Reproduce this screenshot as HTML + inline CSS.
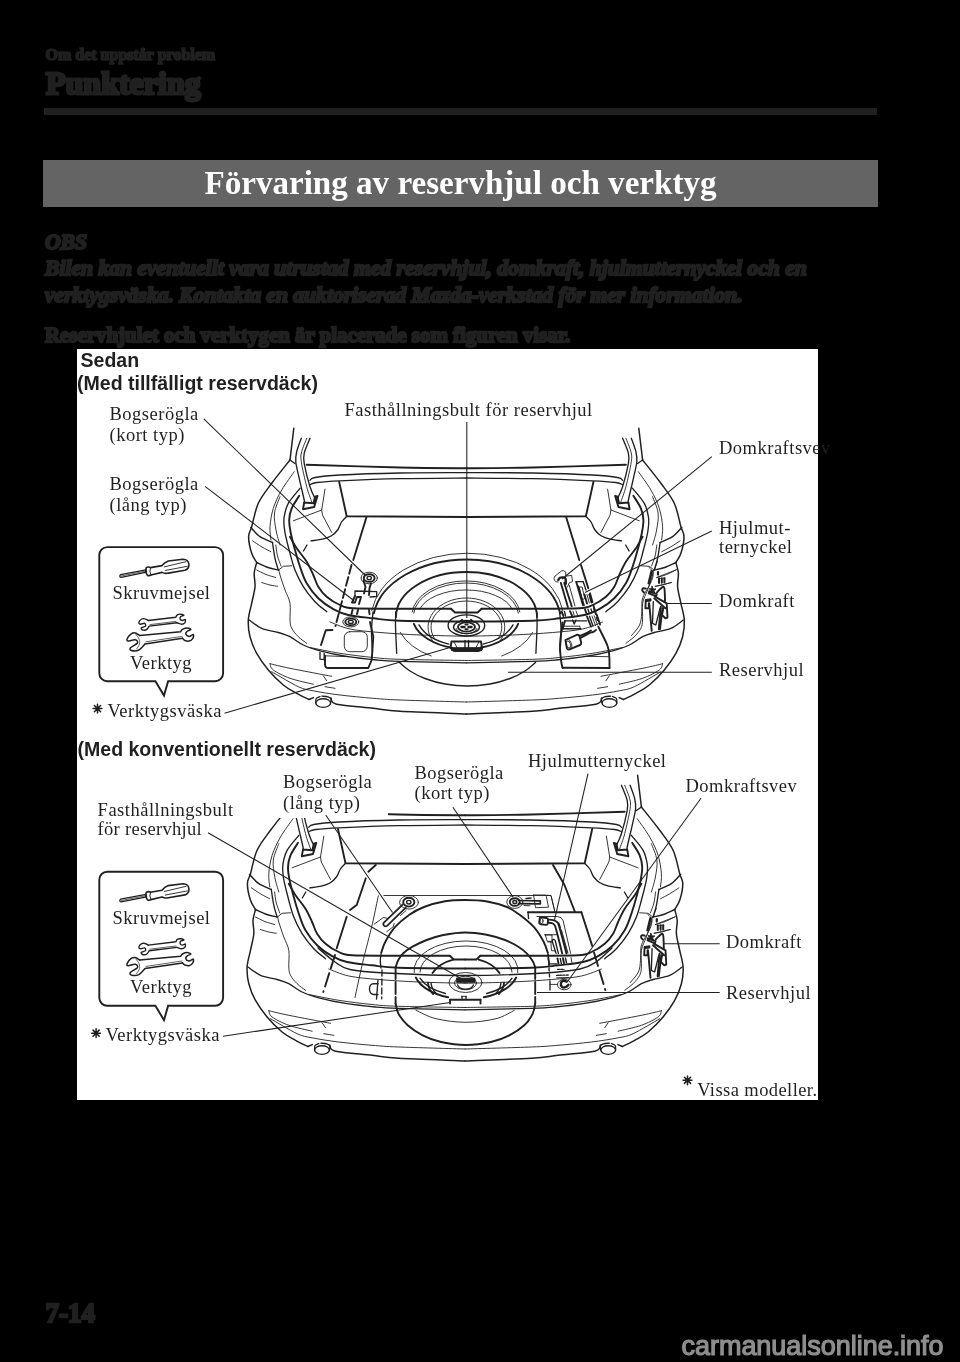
<!DOCTYPE html>
<html lang="sv">
<head>
<meta charset="utf-8">
<title>Punktering</title>
<style>
html,body{margin:0;padding:0;background:#000;}
body{width:960px;height:1362px;position:relative;overflow:hidden;filter:grayscale(1);font-family:"Liberation Serif",serif;color:#231f20;}
.abs{position:absolute;white-space:nowrap;margin:0;}
.hd{font-weight:bold;color:#231f20;}
#h1{left:45.5px;top:46px;font-size:16px;line-height:18px;-webkit-text-stroke:1.7px #231f20;}
#h2{left:46px;top:65px;font-size:32px;line-height:37px;-webkit-text-stroke:3px #231f20;}
#rule{left:43.9px;top:107.9px;width:832.9px;height:7px;background:#231f20;}
#banner{left:43px;top:160px;width:835px;height:47px;background:#636466;}
#title{left:43px;top:160px;width:835px;height:47px;line-height:46px;text-align:center;color:#fff;font-weight:bold;font-size:33.1px;}
.obs{font-style:italic;font-weight:bold;font-size:21.6px;line-height:27px;left:45px;-webkit-text-stroke:2.3px #231f20;}
#p1{left:45px;top:323px;font-weight:bold;font-size:20.9px;line-height:24px;-webkit-text-stroke:2.3px #231f20;}
#panel{left:77px;top:349px;width:741px;height:751px;background:#fff;}
.sb{font-family:"Liberation Sans",sans-serif;font-weight:bold;font-size:19px;line-height:22px;color:#231f20;}
.lb{font-family:"Liberation Serif",serif;font-size:19.3px;line-height:20px;color:#231f20;}
#pg{left:45.5px;top:1298px;font-weight:bold;font-size:27px;line-height:30px;-webkit-text-stroke:2.4px #231f20;}
#wm{left:681.5px;top:1330.5px;font-family:"Liberation Sans",sans-serif;font-size:27px;line-height:30px;color:#8e8e8e;-webkit-text-stroke:1.2px #8e8e8e;letter-spacing:-0.03px;}
svg{position:absolute;left:0;top:0;}
</style>
</head>
<body>
<div class="abs hd" id="h1">Om det uppstår problem</div>
<div class="abs hd" id="h2">Punktering</div>
<div class="abs" id="rule"></div>
<div class="abs" id="banner"></div>
<div class="abs" id="title">Förvaring av reservhjul och verktyg</div>
<div class="abs obs" style="top:228.5px">OBS</div>
<div class="abs obs" style="top:255.3px">Bilen kan eventuellt vara utrustad med reservhjul, domkraft, hjulmutternyckel och en</div>
<div class="abs obs" style="top:282.3px">verktygsväska. Kontakta en auktoriserad Mazda-verkstad för mer information.</div>
<div class="abs" id="p1">Reservhjulet och verktygen är placerade som figuren visar.</div>
<div class="abs" id="panel"></div>
<!--TEXT-->
<svg id="fig" width="960" height="1362" viewBox="0 0 960 1362">
<defs>
<clipPath id="pc"><rect x="77" y="349" width="741" height="751"/></clipPath>
</defs>
<g font-family="Liberation Sans, sans-serif" font-weight="bold" font-size="19.55" fill="#231f20">
<text x="80.5" y="367">Sedan</text>
<text x="77" y="390" clip-path="url(#pc)">(Med tillfälligt reservdäck)</text>
<text x="77.5" y="755.5" clip-path="url(#pc)">(Med konventionellt reservdäck)</text>
</g>
<g font-family="Liberation Serif, serif" font-size="18.5" fill="#231f20" letter-spacing="0.5">
<text x="109.5" y="420">Bogserögla</text>
<text x="109.5" y="441">(kort typ)</text>
<text x="109.5" y="490">Bogserögla</text>
<text x="109.5" y="511">(lång typ)</text>
<text x="344.5" y="415.7">Fasthållningsbult för reservhjul</text>
<text x="719" y="453.7">Domkraftsvev</text>
<text x="719" y="533.6">Hjulmut-</text>
<text x="719" y="552.5">ternyckel</text>
<text x="719" y="607.4">Domkraft</text>
<text x="719" y="676.4">Reservhjul</text>
<text x="112.5" y="599.1">Skruvmejsel</text>
<text x="130" y="669">Verktyg</text>
<text x="107.5" y="717">Verktygsväska</text>
<text x="283" y="788.4">Bogserögla</text>
<text x="283" y="808.6">(lång typ)</text>
<text x="97.6" y="815.7">Fasthållningsbult</text>
<text x="97.6" y="835.2" letter-spacing="0.3">för reservhjul</text>
<text x="528" y="766.9">Hjulmutternyckel</text>
<text x="414.5" y="779.4">Bogserögla</text>
<text x="414.5" y="799.1">(kort typ)</text>
<text x="685.5" y="791.5">Domkraftsvev</text>
<text x="726" y="948.3">Domkraft</text>
<text x="726" y="998.7">Reservhjul</text>
<text x="112.5" y="923.7">Skruvmejsel</text>
<text x="130" y="993.1">Verktyg</text>
<text x="105.5" y="1041">Verktygsväska</text>
<text x="697.2" y="1096" letter-spacing="0.42">Vissa modeller.</text>
</g>
<!-- asterisks -->
<g id="ast" stroke="#231f20" stroke-width="1.5" stroke-linecap="round" fill="#231f20">
<g id="a1" transform="translate(97.5,708.6)"><path d="M-4.4,0H4.4M0,-4.4V4.4M-3.1,-3.1L3.1,3.1M3.1,-3.1L-3.1,3.1"/><circle r="2.1" stroke="none"/></g>
<use href="#a1" x="-1.4" y="324.6"/>
<use href="#a1" x="590" y="371.7"/>
</g>
<!-- leaders -->
<g id="leaders" stroke="#231f20" stroke-width="1.05" fill="none">
<path d="M203.8,418.8L366,576"/>
<path d="M205,486.3L353.8,600.5"/>
<path d="M466.8,422V618"/>
<path d="M711.8,456.7L562,579"/>
<path d="M711.8,531L585,592.5"/>
<path d="M711.8,603.4H667"/>
<path d="M711.8,672.2H508"/>
<path d="M224.5,713.2L450,647.5"/>
<path d="M208,832.7L460,978"/>
<path d="M325.7,815L392.5,912.5"/>
<path d="M452.9,807.2L513,897"/>
<path d="M588,773.6L554.4,920.3"/>
<path d="M701,798.2L567.5,981.5"/>
<path d="M719.7,943.8H664"/>
<path d="M719.7,992.5H537"/>
<path d="M223,1036.2L450,1002.5"/>
</g>
<!-- callouts -->
<g id="callout" fill="none" stroke="#231f20" stroke-width="1.9" stroke-linejoin="miter">
<path id="cb" d="M107.3,547.1H215.1a8,8 0 0 1 8,8V673.2a8,8 0 0 1 -8,8H168.1L164,695.6L155.4,681.2H107.3a8,8 0 0 1 -8,-8V555.1a8,8 0 0 1 8,-8Z"/>
<use href="#cb" y="324.6"/>
</g>
<!--ICONS-->
<g id="tools" fill="none" stroke="#231f20" stroke-linecap="round" stroke-linejoin="round">
<path d="M120.6,574.6L146,569.8L146.6,572.2L121.2,577.3Q119.8,577.4 119.9,576Q119.9,574.9 120.6,574.6Z" stroke-width="1.3"/>
<path d="M121.5,575.9L145.5,571.2" stroke-width="0.7"/>
<path d="M146.3,567.6Q144.6,571.5 147.6,575.4Q149.5,576 151,575L162,572.4Q165,574 168.3,573.1L185,570.3Q189.5,568.5 188.9,564Q188.3,559.3 183,559.2L168.3,561Q164.5,562.3 162,565.6L150.5,567.6Q148.5,566.5 146.3,567.6Z" stroke-width="1.6"/>
<path d="M150.5,567.6Q148.8,571.5 151,575" stroke-width="1.0"/>
<path d="M164.2,566.9L186.0,561.7" stroke-width="0.9"/>
<path d="M165.2,570.5L187.3,566.3" stroke-width="0.9"/>
<path d="M148.3,620.5C147.8,620.2 146.1,619.1 145.0,618.9C143.9,618.6 142.7,618.4 141.7,619.0C140.7,619.6 139.1,621.4 138.9,622.3C138.7,623.2 139.4,624.0 140.3,624.2C141.2,624.4 143.6,623.0 144.5,623.3C145.4,623.6 146.1,625.3 145.5,626.1C144.9,626.9 141.6,627.3 141.2,628.0C140.8,628.7 142.1,629.9 143.1,630.1C144.1,630.3 145.9,630.1 146.9,629.4C147.9,628.7 148.8,626.6 149.2,626.1L176.9,622.8" stroke-width="1.4"/>
<path d="M176.9,622.8C177.7,623.0 180.3,624.2 181.6,624.2C182.9,624.2 184.2,623.6 184.8,622.8C185.4,622.0 185.7,619.9 185.3,619.5C184.9,619.1 183.3,620.6 182.5,620.5C181.7,620.4 180.5,619.7 180.2,619.1C179.9,618.5 180.0,617.3 180.6,616.7C181.2,616.1 183.9,615.7 183.9,615.3C183.9,614.9 181.7,614.3 180.6,614.2C179.5,614.1 178.1,614.3 177.3,614.8C176.5,615.3 176.1,616.8 175.9,617.2L148.3,620.5" stroke-width="1.4"/>
<path d="M150.0,624.6L176.0,621.4" stroke-width="0.7"/>
<path d="M139.8,635.5C139.0,635.1 136.7,633.1 135.2,632.9C133.7,632.7 132.2,633.1 130.9,634.1C129.6,635.1 127.7,637.6 127.2,638.8C126.7,640.0 126.8,641.0 128.1,641.1C129.4,641.2 133.6,639.4 135.2,639.7C136.8,640.0 138.3,641.7 137.5,643.0C136.7,644.3 131.5,646.5 130.5,647.7C129.5,649.0 130.0,650.1 131.4,650.5C132.8,650.9 136.6,651.1 138.9,650.0C141.2,648.9 144.0,644.9 145.0,643.9L182.5,638.3" stroke-width="1.5"/>
<path d="M182.5,638.3C182.8,638.6 183.3,639.7 184.4,640.2C185.5,640.7 187.7,641.4 189.1,641.1C190.5,640.8 192.1,639.4 192.8,638.3C193.5,637.2 193.9,634.8 193.3,634.5C192.7,634.2 190.3,636.5 189.1,636.4C187.8,636.3 186.1,635.0 185.8,634.1C185.5,633.2 186.3,632.1 187.2,631.3C188.0,630.5 190.9,629.9 190.9,629.4C190.9,628.9 188.6,628.0 187.2,628.0C185.8,628.0 183.6,628.8 182.5,629.4C181.4,630.0 180.9,631.3 180.6,631.7L139.8,635.5" stroke-width="1.5"/>
<path d="M146.0,641.8L182.0,636.4" stroke-width="0.7"/>
<path d="M136.0,634.5C136.5,635.2 138.4,637.4 139.0,639.0C139.6,640.6 139.9,642.3 139.5,644.0C139.1,645.7 137.0,648.2 136.5,649.0" stroke-width="0.7"/>
</g>
<use href="#tools" y="324.6"/>
<!--/ICONS-->
<!--CAR1-->
<g id="c1" fill="none" stroke="#231f20" stroke-linecap="round" stroke-linejoin="round">
<g id="shell"><g id="shh">
<path d="M293.8,428.3L290.0,460.0" stroke-width="1.5"/>
<path d="M290.0,460.0L295.0,463.5" stroke-width="1.35"/>
<path d="M290.0,460.0C286.9,463.9 277.0,476.1 271.7,483.3C266.4,490.5 261.6,496.1 258.3,503.3C255.0,510.5 253.3,521.1 251.7,526.7C250.1,532.3 248.6,532.3 248.6,536.7C248.6,541.1 250.3,549.0 251.7,553.3C253.0,557.6 255.9,561.0 256.7,562.5" stroke-width="1.5"/>
<path d="M256.7,562.5C256.3,564.3 254.5,569.3 254.2,573.3C253.9,577.3 255.4,581.7 255.0,586.7C254.6,591.7 252.8,597.8 251.7,603.3C250.6,608.8 248.6,614.4 248.3,620.0C248.0,625.6 248.6,631.2 250.0,636.7C251.4,642.2 253.6,647.8 256.7,653.3C259.8,658.8 263.9,664.7 268.3,670.0C272.7,675.3 278.6,681.1 283.3,685.0C288.0,688.9 292.4,690.9 296.7,693.3C301.0,695.7 306.9,698.5 309.0,699.5" stroke-width="1.5"/>
<path d="M309.0,699.5L313.5,697.6" stroke-width="1.5"/>
<path d="M331.0,698.0C331.9,699.0 329.6,702.5 336.7,704.2C343.8,705.9 362.8,707.1 373.3,708.3C383.9,709.5 384.5,710.3 400.0,711.3C415.5,712.2 455.2,713.5 466.3,714.0" stroke-width="1.5"/>
<ellipse cx="323.2" cy="703.0" rx="7.4" ry="4.3" stroke-width="1.35"/>
<path d="M315.8,703.0C315.9,702.2 315.5,699.6 316.2,698.5C316.9,697.4 319.4,696.8 320.0,696.5" stroke-width="1.35"/>
<path d="M330.6,703.0C330.7,702.3 331.4,700.0 331.0,699.0C330.6,698.0 329.5,697.3 328.0,696.8C326.5,696.3 323.0,696.3 322.0,696.2" stroke-width="1.35"/>
<path d="M301.3,438.3C300.5,440.5 297.6,447.8 296.7,451.7C295.8,455.6 295.4,457.3 295.8,461.7C296.2,466.1 297.8,471.9 299.2,478.3C300.6,484.7 303.4,496.0 304.2,500.0C305.0,504.0 304.0,502.1 304.0,502.5" stroke-width="1.35"/>
<path d="M306.7,438.3C305.9,440.5 302.6,447.8 301.7,451.7C300.8,455.6 300.5,455.9 301.3,461.7C302.1,467.5 305.0,480.0 306.7,486.7C308.4,493.4 310.9,499.2 311.7,501.7" stroke-width="0.9"/>
<path d="M310.0,438.3C309.0,440.8 305.2,449.1 304.2,453.3C303.2,457.5 303.2,457.7 304.2,463.3C305.2,468.9 308.1,480.6 310.0,486.7C311.9,492.8 314.8,497.8 315.8,500.0" stroke-width="1.35"/>
<path d="M304.2,502.5L303.0,509.2L314.2,507.0L317.5,495.8L315.0,496.7L313.6,503.2L304.2,502.5" stroke-width="1.9"/>
<path d="M306.7,464.7C322.2,465.2 373.4,466.9 400.0,467.5C426.6,468.1 455.2,468.2 466.3,468.3" stroke-width="1.9"/>
<path d="M310.0,480.3C310.8,479.8 310.0,478.4 315.0,477.5C320.0,476.6 325.8,475.8 340.0,475.0C354.2,474.2 378.9,473.4 400.0,473.0C421.1,472.6 455.2,472.7 466.3,472.6" stroke-width="1.35"/>
<path d="M310.0,484.7C311.1,484.3 311.7,483.1 316.7,482.5C321.7,481.9 326.1,481.4 340.0,480.8C353.9,480.2 378.9,479.2 400.0,478.7C421.1,478.2 455.2,478.1 466.3,478.0" stroke-width="1.35"/>
<path d="M339.2,482.0L346.7,516.3L466.3,517.0" stroke-width="1.9"/>
<path d="M346.7,516.3C345.8,517.2 342.9,519.8 341.5,522.0C340.1,524.2 339.7,527.2 338.0,529.5C336.3,531.8 334.1,534.2 331.5,535.8C328.9,537.4 325.9,538.4 322.5,539.2C319.1,540.0 312.9,540.5 311.0,540.8" stroke-width="1.35"/>
<path d="M325.0,489.2L321.7,510.0L293.3,520.8" stroke-width="0.9"/>
<path d="M321.7,510.0L322.5,515.0L331.7,532.5" stroke-width="0.9"/>
<path d="M303.5,551.0L307.0,545.0" stroke-width="1.35"/>
<path d="M294.2,471.7C292.1,474.8 285.2,483.9 281.7,490.0C278.2,496.1 275.2,502.2 273.3,508.3C271.4,514.4 270.4,521.4 270.0,526.7C269.6,532.0 270.8,537.8 271.0,540.0" stroke-width="0.9"/>
<path d="M280.0,496.7C279.1,499.4 275.2,507.4 274.5,513.0C273.8,518.5 275.1,524.7 276.0,530.0C276.9,535.3 279.3,542.5 280.0,545.0" stroke-width="0.9"/>
<path d="M300.0,488.3C298.1,490.8 290.9,498.6 288.3,503.3C285.7,508.0 284.9,512.8 284.2,516.7C283.5,520.7 283.9,523.7 284.2,527.0C284.5,530.3 284.8,532.3 285.8,536.7C286.8,541.1 288.5,547.8 290.0,553.3C291.5,558.8 292.8,564.4 295.0,570.0C297.2,575.6 300.0,581.4 303.3,586.7C306.6,592.0 311.1,597.5 315.0,601.7C318.9,605.9 324.8,610.0 326.7,611.7" stroke-width="1.35"/>
<path d="M299.2,495.8C297.9,497.9 293.4,504.3 291.7,508.3C290.0,512.3 289.3,515.8 289.2,520.0C289.1,524.2 289.8,528.3 290.8,533.3C291.8,538.3 293.5,544.4 295.0,550.0C296.5,555.6 298.1,561.2 300.0,566.7C301.9,572.2 303.6,578.0 306.7,583.3C309.8,588.6 313.9,594.0 318.3,598.3C322.7,602.6 328.3,606.4 333.3,609.2C338.3,612.0 341.6,613.5 348.3,615.0C355.0,616.5 364.7,617.3 373.3,618.3C381.9,619.3 384.5,620.3 400.0,620.8C415.5,621.3 455.2,621.4 466.3,621.5" stroke-width="1.9"/>
<path d="M290.0,536.7C291.1,538.6 293.9,544.1 296.7,548.3C299.5,552.5 303.9,557.2 306.7,561.7C309.5,566.2 311.4,570.8 313.3,575.0C315.2,579.2 316.1,583.1 318.3,586.7C320.5,590.3 323.1,593.7 326.7,596.7C330.3,599.8 335.6,603.1 340.0,605.0C344.4,606.9 343.3,607.7 353.3,608.3C363.3,608.9 383.7,608.6 400.0,608.7C416.3,608.8 442.5,608.8 451.0,608.8" stroke-width="1.9"/>
<path d="M451.0,608.8L455.0,612.5L466.3,612.5" stroke-width="1.9"/>
<path d="M250.8,527.5C252.3,529.0 256.4,534.2 260.0,536.7C263.6,539.2 270.4,541.5 272.5,542.5" stroke-width="1.5"/>
<path d="M272.5,542.5C272.9,545.1 274.0,553.7 275.0,558.3C276.0,562.9 277.8,568.0 278.3,570.0" stroke-width="1.35"/>
<path d="M275.8,545.0C276.1,546.8 276.6,552.5 277.5,556.0C278.4,559.5 280.4,564.3 281.0,566.0" stroke-width="0.9"/>
<path d="M256.7,562.5C258.6,563.3 264.4,566.2 268.0,567.5C271.6,568.8 276.6,569.6 278.3,570.0" stroke-width="1.5"/>
<path d="M252.5,540.8C254.1,541.8 258.9,545.2 262.0,547.0C265.1,548.8 269.3,550.9 270.8,551.7" stroke-width="0.9"/>
<path d="M256.7,570.0C258.2,570.8 262.8,573.2 266.0,574.5C269.2,575.8 274.2,577.0 275.8,577.5" stroke-width="0.9"/>
<path d="M261.7,582.5C263.1,582.9 267.4,584.4 270.0,585.0C272.6,585.6 276.2,586.1 277.5,586.3" stroke-width="0.9"/>
<path d="M279.0,569.7L283.3,566.3L291.7,565.8" stroke-width="0.9"/>
<path d="M279.0,570.0C279.2,570.8 279.0,571.7 280.0,575.0C281.0,578.3 283.3,585.3 285.0,590.0C286.7,594.7 289.2,598.3 290.0,603.3C290.8,608.3 289.7,615.8 290.0,620.0C290.3,624.2 290.3,625.5 291.7,628.3C293.1,631.1 295.8,634.2 298.3,636.7C300.8,639.2 305.3,642.2 306.7,643.3" stroke-width="0.9"/>
<path d="M249.2,620.0C251.3,621.4 256.8,626.2 261.7,628.3C266.6,630.4 273.6,631.1 278.3,632.5C283.0,633.9 285.8,634.6 290.0,636.7C294.2,638.8 298.3,642.6 303.3,645.0C308.3,647.4 312.5,648.8 320.0,650.8C327.5,652.8 338.9,655.2 348.3,656.7C357.8,658.2 368.1,659.2 376.7,660.0C385.3,660.8 385.1,660.8 400.0,661.3C414.9,661.8 455.2,662.5 466.3,662.8" stroke-width="1.35"/>
<path d="M310.0,647.5C315.0,648.5 329.4,651.6 340.0,653.3C350.6,655.0 363.3,656.5 373.3,657.5C383.3,658.5 384.5,658.8 400.0,659.3C415.5,659.8 455.2,660.3 466.3,660.5" stroke-width="0.9"/>
<path d="M330.0,622.0C333.3,623.2 341.7,627.2 350.0,629.0C358.3,630.8 368.3,631.5 380.0,632.5C391.7,633.5 405.6,634.4 420.0,635.0C434.4,635.6 458.6,636.1 466.3,636.3" stroke-width="0.9"/>
<path d="M270.0,663.7C273.3,664.5 279.7,666.2 290.0,668.3C300.3,670.4 324.8,675.0 331.7,676.3" stroke-width="0.9"/>
<path d="M270.0,663.7C270.6,664.8 270.0,667.6 273.3,670.0C276.6,672.4 283.3,675.9 290.0,678.3C296.7,680.7 309.4,683.2 313.3,684.2" stroke-width="0.9"/>
<path d="M325.0,686.7L335.0,688.3" stroke-width="0.9"/>
<path d="M323.3,675.8L326.7,680.8" stroke-width="0.9"/>
<path d="M271.7,671.7C276.1,674.2 291.4,683.5 298.3,686.7C305.2,689.9 306.4,689.4 313.3,690.8C320.2,692.2 330.0,693.8 340.0,695.0C350.0,696.2 363.3,697.5 373.3,698.3C383.3,699.1 384.5,699.4 400.0,700.0C415.5,700.6 455.2,701.7 466.3,702.0" stroke-width="0.9"/>
</g>
<use href="#shh" transform="translate(932.6,0) scale(-1,1)"/></g>
<g id="c1s">
<path d="M366.5,517.0L353.3,560.0" stroke-width="1.9"/>
<path d="M351.5,565.0L335.5,626.0" stroke-width="1.9" stroke-dasharray="9 3.5"/>
<path d="M332.5,630.0L325.8,630.3L321.0,645.0" stroke-width="1.9"/>
<path d="M320.0,652.5L320.0,659.2L324.2,659.7L324.2,653.5" stroke-width="1.35"/>
<path d="M325,655.8V664.5Q325,668 328.5,668H368.3L371.7,660L373.3,636.7L370,622" stroke-width="1.9"/>
<path d="M325.0,655.8L348.3,656.7" stroke-width="0.9"/>
<rect x="344.3" y="631.7" width="23" height="20" rx="5.5" stroke-width="0.9"/>
<path d="M373.0,612.0C372.8,615.0 371.6,623.4 371.5,630.0C371.4,636.6 372.3,648.1 372.5,651.7" stroke-width="1.35"/>
<path d="M395.8,612.0C395.8,614.2 395.4,618.1 395.5,625.0C395.6,631.9 396.5,648.6 396.7,653.3" stroke-width="1.35"/>
</g>
<g id="jack">
<path d="M648.5,567.0C649.1,567.7 651.5,569.5 652.3,571.0C653.0,572.5 653.3,574.0 653.0,576.0C652.7,578.0 651.7,580.7 650.5,583.3C649.3,585.9 647.0,588.9 645.6,591.7C644.2,594.5 642.9,596.4 642.2,600.0C641.6,603.6 642.1,609.1 641.7,613.3C641.3,617.5 641.3,621.3 639.6,625.0C637.9,628.7 632.9,633.8 631.5,635.5" stroke-width="0.9"/>
<path d="M651.7,571.3L648.8,583.3" stroke-width="2.6"/>
<path d="M658.0,572.0L658.0,574.6" stroke-width="2.2"/>
<path d="M659.0,578.6L659.0,583.0" stroke-width="2.0"/>
<path d="M661.8,578.4L661.8,582.8" stroke-width="2.0"/>
<path d="M664.4,578.2L664.4,582.6" stroke-width="2.0"/>
<path d="M658.5,578.4L665.0,578.0" stroke-width="0.9"/>
<path d="M656.7,577.5L676.7,569.6" stroke-width="0.9"/>
<path d="M655.4,586.3L671.7,582.5" stroke-width="0.9"/>
<path d="M654.2,570.4L657.5,561.3" stroke-width="0.9"/>
<path d="M665.0,601.7C664.9,599.3 665.0,589.6 664.2,587.5C663.4,585.4 661.2,588.4 660.0,589.2C658.8,590.0 657.5,592.0 657.0,592.5" stroke-width="1.9"/>
<path d="M652,586.3L653.3,589L656,589L653.8,590.6L654.6,593L652.5,591.5L650.2,592.8L651,590.3L649.2,588.8L651.6,588.7Z" stroke-width="1.0" fill="#231f20"/>
<path d="M645.8,588.6C645.3,588.5 643.6,588.0 643.0,588.3C642.4,588.6 642.1,589.8 642.3,590.5C642.5,591.2 643.7,592.2 644.0,592.5" stroke-width="1.9"/>
<path d="M649.2,591.3L656.7,594.2L656.2,596.3L648.8,593.3L649.2,591.3" stroke-width="1.9"/>
<path d="M655.0,596.7L666.7,603.3L667.5,617.5L665.4,618.3L662.0,615.0L663.3,608.3" stroke-width="1.9"/>
<path d="M654.2,598.3L665.4,608.3" stroke-width="1.9"/>
<path d="M645.6,599.5L651.0,598.8L651.0,601.0L645.6,601.5" stroke-width="1.0" fill="#231f20"/>
<path d="M645.8,600.0L645.4,608.3L648.8,608.3L648.8,603.3L649.2,603.3L651.7,630.8" stroke-width="1.9"/>
<path d="M653.3,601.7L652.5,623.3L655.8,625.0L660.0,608.3" stroke-width="1.35"/>
<path d="M660.8,606.7L658.8,629.2" stroke-width="1.9"/>
<path d="M662.5,608.3L660.0,629.2" stroke-width="1.9"/>
</g>
<path d="M371.7,610.7A96.5,66.5 0 0 1 562.9,610.7" stroke-width="0.9"/>
<path d="M373.9,613.3A94.0,62.5 0 0 1 560.1,613.3" stroke-width="1.9"/>
<path d="M399.5,662.5C401.2,663.9 405.8,668.3 410.0,671.0C414.2,673.7 419.2,676.3 425.0,678.5C430.8,680.7 437.9,682.8 445.0,684.0C452.1,685.2 460.0,686.0 467.5,686.0C475.0,686.0 482.9,685.2 490.0,684.0C497.1,682.8 504.2,680.7 510.0,678.5C515.8,676.3 520.8,673.7 525.0,671.0C529.2,668.3 533.8,663.9 535.5,662.5" stroke-width="1.35"/>
<path d="M396.0,617.0A70.5,45.0 0 0 1 537.0,617.0" stroke-width="1.9"/>
<path d="M532.7,632.4A70.5,45.0 0 0 1 501.8,656.0" stroke-width="0.9"/>
<path d="M431.2,656.0A70.5,45.0 0 0 1 400.3,632.4" stroke-width="0.9"/>
<path d="M412.2,612.0A54.0,34.0 0 0 1 519.8,612.0" stroke-width="0.9"/>
<path d="M413.7,613.1A52.5,33.0 0 0 1 518.3,613.1" stroke-width="0.9"/>
<path d="M419.6,609.3A48.0,26.0 0 0 1 512.4,609.3" stroke-width="0.9"/>
<path d="M432.4,640.6A38.5,29.0 0 1 1 500.4,640.6" stroke-width="0.9"/>
<path d="M434.2,638.0A35.5,26.0 0 1 1 498.6,638.0" stroke-width="0.9"/>
<path d="M518.2,623.8A54.0,34.0 0 0 1 480.0,647.8" stroke-width="1.9"/>
<path d="M452.0,647.8A54.0,34.0 0 0 1 413.8,623.8" stroke-width="1.9"/>
<path d="M513.0,624.9A50.0,32.0 0 0 1 483.1,644.1" stroke-width="1.35"/>
<path d="M448.9,644.1A50.0,32.0 0 0 1 419.0,624.9" stroke-width="1.35"/>
<ellipse cx="466.4" cy="625.4" rx="18.3" ry="10.6" stroke-width="1.35"/>
<ellipse cx="466.5" cy="627.0" rx="13.0" ry="6.6" stroke-width="1.35"/>
<path d="M476.8,628.6A10.5,6.5 0 0 1 456.2,628.6" stroke-width="0.9"/>
<ellipse cx="466.5" cy="627.0" rx="8.5" ry="4.6" stroke-width="1.9"/>
<path d="M459.0,622.3L462.0,619.5L464.0,622.0" stroke-width="1.35"/>
<path d="M469.0,622.0L471.0,619.5L474.0,622.3" stroke-width="1.35"/>
<path d="M461.5,627.0L464.5,627.0" stroke-width="2.4"/>
<path d="M468.5,627.0L471.5,627.0" stroke-width="2.4"/>
<path d="M465.5,629.3L467.5,629.3" stroke-width="2.0"/>
<path d="M465.5,624.6L467.5,624.6" stroke-width="2.0"/>
<path d="M451.5,641.5L481.0,641.5L482.0,648.0L479.0,650.5L453.5,650.5L450.5,648.0L451.5,641.5" stroke-width="1.9"/>
<path d="M451.0,647.7L482.7,647.7L482.0,650.3L478.0,651.4L455.0,651.4L451.5,650.3" stroke-width="1.0" fill="#231f20"/>
<path d="M465.0,640.5L465.0,650.5L468.5,650.5L468.5,640.5" stroke-width="1.35"/>
<path d="M454.0,642.0L457.0,647.5" stroke-width="0.9"/>
<path d="M479.0,642.0L476.0,647.5" stroke-width="0.9"/>
<ellipse cx="369.2" cy="578.0" rx="8.2" ry="5.8" stroke-width="0.9"/>
<ellipse cx="369.2" cy="578.0" rx="5.4" ry="3.8" stroke-width="1.9"/>
<ellipse cx="369.2" cy="578.0" rx="2.2" ry="1.6" stroke-width="1.35"/>
<path d="M363.5,580.5L365.5,587.0L364.0,593.5" stroke-width="1.9"/>
<path d="M371.0,583.5L369.5,588.0L369.0,595.0" stroke-width="1.9"/>
<path d="M355.0,596.0L355.0,591.0L376.7,591.7L376.7,596.5L370.0,597.0" stroke-width="1.35"/>
<path d="M355.0,596.0L352.0,602.5L355.0,602.5L357.0,597.0L361.0,597.0L359.0,604.0" stroke-width="1.9"/>
<path d="M352.5,610.0L351.5,614.0" stroke-width="1.9"/>
<path d="M358.0,610.0L357.0,614.0" stroke-width="1.9"/>
<path d="M369.0,610.0L369.5,614.0" stroke-width="1.9"/>
<ellipse cx="350.8" cy="621.9" rx="8.0" ry="5.0" stroke-width="0.9"/>
<ellipse cx="350.8" cy="621.9" rx="5.5" ry="3.3" stroke-width="1.9"/>
<ellipse cx="350.8" cy="621.9" rx="2.5" ry="1.5" stroke-width="1.35"/>
<path d="M555,576.2L561.7,570.8Q563.5,570 565.8,572L565.8,576.2L571.7,575.3L572.5,581.6L569.2,582.8L567.5,587" stroke-width="0.9"/>
<path d="M555.0,576.2C554.8,576.6 553.9,577.6 554.0,578.5C554.1,579.4 554.8,580.9 555.5,581.5C556.2,582.1 557.6,581.9 558.0,582.0" stroke-width="0.9"/>
<path d="M558.3,580.0C558.6,579.6 559.2,578.2 560.0,577.8C560.8,577.4 562.1,577.3 563.0,577.4C563.9,577.5 564.9,577.2 565.4,578.3C565.9,579.3 565.7,582.8 565.8,583.7" stroke-width="2.4"/>
<path d="M560.8,582.8L567.9,607.0" stroke-width="1.9"/>
<path d="M564.2,582.8L571.7,606.2" stroke-width="1.9"/>
<path d="M569.2,585.3L575.0,606.0" stroke-width="0.9"/>
<path d="M561.5,611.5L563.5,616.0" stroke-width="1.9"/>
<path d="M564.5,611.5L565.5,616.0" stroke-width="1.35"/>
<path d="M570.0,611.2L572.0,615.5" stroke-width="1.9"/>
<path d="M573.0,611.2L574.2,615.3" stroke-width="0.9"/>
<path d="M576.0,611.0L577.5,615.0" stroke-width="0.9"/>
<path d="M572.5,620.0L574.2,624.0L576.0,620.0" stroke-width="1.35"/>
<path d="M575.8,581.6L583.3,581.6" stroke-width="1.35"/>
<path d="M576.3,582.0L583.0,605.3" stroke-width="1.9"/>
<path d="M578.3,586.2L584.2,605.3" stroke-width="1.35"/>
<path d="M583.3,582.0L586.0,590.0" stroke-width="1.35"/>
<path d="M579.6,587L582.1,587L584.8,598.5L582.5,599.5Z" stroke-width="0.9"/>
<path d="M584.5,594.5L587.0,603.5" stroke-width="1.9"/>
<path d="M587.0,594.5L589.3,603.0" stroke-width="0.9"/>
<path d="M589.3,594.5L591.5,602.5" stroke-width="1.9"/>
<path d="M585.0,609.5L586.3,613.0" stroke-width="1.9"/>
<path d="M588.0,609.2L589.0,612.5" stroke-width="1.35"/>
<path d="M591.0,609.0L592.0,612.0" stroke-width="1.35"/>
<path d="M594.0,608.8L595.5,612.0" stroke-width="1.9"/>
<path d="M587.0,616.5L591.0,626.5" stroke-width="1.9"/>
<path d="M589.5,616.3L593.0,626.0" stroke-width="1.35"/>
<path d="M592.0,616.0L595.5,625.5" stroke-width="0.9"/>
<path d="M594.2,615.8L597.5,625.0" stroke-width="0.9"/>
<path d="M596.7,614.5L600.0,624.5" stroke-width="1.9"/>
<path d="M596.0,630.0C595.5,630.3 594.2,631.5 593.0,632.0C591.8,632.5 591.0,632.3 589.0,633.3C587.0,634.3 582.2,637.0 580.8,637.8" stroke-width="1.9"/>
<path d="M591.0,630.5C590.5,630.8 589.9,631.4 588.0,632.3C586.1,633.2 580.9,635.4 579.5,636.0" stroke-width="1.9"/>
<path d="M565.4,640L576.8,634.8Q579,634.5 579.5,636L581.2,642.5Q581.3,644.3 580,645L569,649.6Q567.5,649.8 567,648.5Z" stroke-width="1.9"/>
<path d="M568.5,639.0C569.0,639.8 571.0,641.9 571.5,643.5C572.0,645.1 571.8,647.7 571.8,648.5" stroke-width="0.9"/>
<ellipse cx="568.3" cy="644.5" rx="2.2" ry="3.6" stroke-width="0.9" transform="rotate(-22 568.3 644.5)"/>
<path d="M566.1,517.0L579.3,560.0" stroke-width="1.9"/>
<path d="M581.0,565.0L588.3,588.3" stroke-width="1.9"/>
<path d="M590.0,593.3L597.5,620.0" stroke-width="1.9" stroke-dasharray="9 3.5"/>
<path d="M598.3,626.7C599.8,629.9 605.7,640.8 607.5,645.8C609.3,650.8 609.0,653.0 609.3,656.7C609.6,660.4 609.5,666.1 609.5,668.0" stroke-width="1.9"/>
<path d="M562.5,622.5C562.1,626.2 560.2,638.8 560.0,645.0C559.8,651.2 560.6,656.2 561.0,660.0C561.4,663.8 562.2,666.5 562.5,667.8" stroke-width="1.9"/>
<path d="M562.5,667.8L609.5,668.0" stroke-width="1.9"/>
<path d="M583.3,656.3L608.3,656.7" stroke-width="0.9"/>
<path d="M559.6,612.0C559.9,615.0 561.0,623.4 561.1,630.0C561.2,636.6 560.3,648.1 560.1,651.7" stroke-width="1.35"/>
<path d="M536.8,612.0C536.8,614.2 537.2,618.1 537.1,625.0C537.0,631.9 536.1,648.6 535.9,653.3" stroke-width="1.35"/>
<path d="M565.0,620.8L586.7,620.8" stroke-width="1.35"/>
<path d="M562.9,628.7L580.8,628.7" stroke-width="1.35"/>
<path d="M565.0,620.8L562.5,629.5" stroke-width="1.9"/>
<path d="M564.0,626.2L580.0,626.2L580.0,628.7" stroke-width="0.9"/>
</g>
<!--/CAR1-->
<!--CAR2-->
<defs><clipPath id="k2"><path d="M77,818H388V770H818V1100H77Z"/></clipPath></defs>
<g id="c2" fill="none" stroke="#231f20" stroke-linecap="round" stroke-linejoin="round">
<g clip-path="url(#k2)"><use href="#shell" transform="translate(-1.2,347.0)"/></g>
<use href="#jack" transform="translate(-1.2,347.0)"/>
<path d="M381.3,952.5C382.0,950.6 383.3,945.5 385.6,941.3C387.9,937.1 391.1,931.6 395.0,927.2C398.9,922.8 404.2,918.4 409.0,915.0C413.8,911.6 418.0,909.3 424.0,907.0C430.0,904.7 438.2,902.5 445.0,901.3C451.8,900.1 458.0,900.0 465.0,900.0C472.0,900.0 480.0,900.3 487.0,901.5C494.0,902.7 501.5,904.8 507.0,907.0C512.5,909.2 515.5,911.6 520.0,915.0C524.5,918.4 530.1,922.8 534.0,927.2C537.9,931.6 541.1,937.1 543.4,941.3C545.7,945.5 547.0,950.6 547.7,952.5" stroke-width="1.9"/>
<path d="M381.3,952.5C381.1,953.8 380.4,957.4 380.3,960.0C380.2,962.6 380.9,966.7 381.0,968.0" stroke-width="1.35"/>
<path d="M547.7,952.5C547.9,953.8 548.6,957.8 548.8,960.0C549.0,962.2 549.0,965.0 549.0,966.0" stroke-width="1.35"/>
<path d="M395.8,966.7C396.2,965.6 397.1,962.2 398.3,960.0C399.6,957.8 400.9,955.5 403.3,953.3C405.7,951.1 408.6,948.9 412.5,946.7C416.4,944.5 421.6,942.0 426.7,940.0C431.8,938.0 436.9,936.2 443.3,935.0C449.7,933.8 457.8,932.5 465.0,932.5C472.2,932.5 480.0,933.5 486.7,934.7C493.4,936.0 499.7,938.0 505.0,940.0C510.3,942.0 514.7,944.5 518.3,946.7C521.9,948.9 524.3,950.9 526.7,953.3C529.1,955.6 531.1,958.6 532.5,960.8C533.9,963.0 534.6,965.7 535.0,966.7" stroke-width="1.9"/>
<path d="M395.6,967.0L395.6,1003.7" stroke-width="1.9" stroke-dasharray="12 3"/>
<path d="M535.2,967.0L535.2,1003.7" stroke-width="1.9" stroke-dasharray="12 3"/>
<path d="M395.6,1003.7C396.1,1005.4 396.5,1010.1 398.5,1013.7C400.5,1017.3 403.7,1021.7 407.7,1025.3C411.7,1028.9 417.1,1032.5 422.7,1035.3C428.2,1038.1 433.8,1040.4 441.0,1042.0C448.2,1043.6 457.7,1045.0 466.0,1045.0C474.3,1045.0 483.8,1043.6 491.0,1042.0C498.2,1040.4 503.8,1038.1 509.3,1035.3C514.9,1032.5 520.4,1028.9 524.3,1025.3C528.2,1021.7 530.9,1017.3 532.7,1013.7C534.5,1010.1 534.8,1005.4 535.2,1003.7" stroke-width="1.9"/>
<path d="M416.0,1010.3C419.3,1011.7 427.7,1016.7 436.0,1018.7C444.3,1020.7 456.0,1022.3 466.0,1022.3C476.0,1022.3 487.9,1020.7 496.0,1018.7C504.1,1016.7 511.2,1011.7 514.3,1010.3" stroke-width="0.9"/>
<path d="M318.0,948.0C320.8,950.3 329.7,958.4 335.0,962.0C340.3,965.6 341.7,967.7 350.0,969.5C358.3,971.3 365.7,972.0 385.0,973.0C404.3,974.0 439.3,975.5 466.0,975.5C492.7,975.5 526.0,974.1 545.0,973.0C564.0,971.9 571.5,970.8 580.0,969.0C588.5,967.2 590.7,965.5 596.0,962.0C601.3,958.5 609.3,950.3 612.0,948.0" stroke-width="1.35"/>
<path d="M414.2,972.5A52.0,29.0 0 1 1 517.8,972.5" stroke-width="0.9"/>
<path d="M420.0,972.0A46.0,26.0 0 0 1 512.0,972.0" stroke-width="0.9"/>
<path d="M516.2,977.5A52.0,29.0 0 0 1 483.8,997.3" stroke-width="1.9"/>
<path d="M448.2,997.3A52.0,29.0 0 0 1 415.8,977.5" stroke-width="1.9"/>
<path d="M512.0,978.2A49.0,27.0 0 0 1 486.7,993.5" stroke-width="1.35"/>
<path d="M445.3,993.5A49.0,27.0 0 0 1 420.0,978.2" stroke-width="1.35"/>
<path d="M432.5,973.0A37.0,26.0 0 0 1 453.3,959.6" stroke-width="1.9"/>
<path d="M478.7,959.6A37.0,26.0 0 0 1 499.5,973.0" stroke-width="1.9"/>
<path d="M433.1,994.0A38.0,24.0 0 0 1 428.0,982.8" stroke-width="1.9"/>
<path d="M504.0,982.8A38.0,24.0 0 0 1 498.9,994.0" stroke-width="1.9"/>
<path d="M435.7,993.0A35.0,22.0 0 0 1 431.0,982.8" stroke-width="1.35"/>
<path d="M501.0,982.8A35.0,22.0 0 0 1 496.3,993.0" stroke-width="1.35"/>
<ellipse cx="465.5" cy="982.5" rx="16.5" ry="10.0" stroke-width="0.9"/>
<ellipse cx="465.5" cy="983.0" rx="11.0" ry="6.8" stroke-width="0.9"/>
<path d="M473.4,984.9A8.0,5.0 0 0 1 457.6,984.9" stroke-width="1.35"/>
<path d="M456.7,978.2L475.0,978.2L475.0,982.3L456.7,982.3L456.7,978.2" stroke-width="1.0" fill="#231f20"/>
<path d="M450.0,999.7L450.0,1003.5" stroke-width="1.9"/>
<path d="M450.0,999.7L480.5,999.7" stroke-width="1.9"/>
<path d="M480.5,999.7L480.5,1003.5" stroke-width="1.9"/>
<path d="M462.0,996.5L462.0,999.5" stroke-width="1.35"/>
<path d="M466.0,996.5L466.0,999.5" stroke-width="1.35"/>
<path d="M461.5,996.3L466.5,996.3" stroke-width="0.9"/>
<path d="M383.8,895.5L551.0,895.5L555.0,912.5" stroke-width="0.9"/>
<path d="M378.3,895.8C377.3,900.4 375.1,912.0 372.5,923.3C369.9,934.5 365.4,950.9 362.5,963.3C359.6,975.7 356.2,991.8 355.0,997.5" stroke-width="0.9"/>
<path d="M375.8,865.0L368.3,871.7" stroke-width="1.9"/>
<path d="M365.8,878.3L356.7,905.0L350.0,910.0" stroke-width="1.9"/>
<path d="M346.7,916.7L336.7,948.3" stroke-width="1.9"/>
<path d="M335.0,955.0L323.3,992.0" stroke-width="1.9" stroke-dasharray="14 5"/>
<path d="M553.0,865.0L564.5,885.0L575.0,912.0" stroke-width="1.9"/>
<path d="M581.4,912.2L592.2,945.9" stroke-width="1.9"/>
<path d="M594.0,952.5L605.3,990.0" stroke-width="1.9" stroke-dasharray="14 5"/>
<path d="M528.0,912.2L581.4,912.2" stroke-width="1.9"/>
<path d="M528.0,912.2L528.6,918.5" stroke-width="1.35"/>
<path d="M536.9,916.5H557.5Q561.8,917 563.1,920.6L570.6,953.4" stroke-width="0.9"/>
<path d="M548.1,954.4L549.0,964.7" stroke-width="1.35"/>
<path d="M549.0,968.0L549.8,980.0" stroke-width="1.35" stroke-dasharray="3 3"/>
<path d="M545.0,935.0L552.0,935.0L552.0,942.0L548.0,942.0" stroke-width="0.9"/>
<path d="M378,983.7H373.5Q369.5,984 369.5,989Q369.5,994 373.5,994.5H378" stroke-width="1.35"/>
<path d="M378.0,980.0L376.5,999.0" stroke-width="1.35"/>
<path d="M382.0,970.0L381.7,998.7" stroke-width="1.35" stroke-dasharray="6 3"/>
<ellipse cx="409.0" cy="902.3" rx="9.4" ry="6.8" stroke-width="0.9"/>
<ellipse cx="408.8" cy="902.2" rx="5.6" ry="4.4" stroke-width="1.9"/>
<ellipse cx="408.8" cy="902.2" rx="2.2" ry="1.8" stroke-width="1.35"/>
<path d="M402.8,904.4L383.9,922.6Q382.6,924.3 384,925.7Q385.4,927 387,925.9L405.8,907.6" stroke-width="1.7"/>
<path d="M374.2,924.2L383.3,917.5L387.5,918.3" stroke-width="0.9"/>
<path d="M386.7,931.7L393.3,926.7L394.2,923.3" stroke-width="0.9"/>
<path d="M395.0,912.0L401.0,906.5" stroke-width="0.9"/>
<path d="M400.5,915.5L406.0,910.5" stroke-width="0.9"/>
<ellipse cx="514.8" cy="902.0" rx="8.0" ry="6.4" stroke-width="0.9"/>
<ellipse cx="514.8" cy="902.0" rx="5.0" ry="3.8" stroke-width="1.9"/>
<ellipse cx="514.8" cy="902.0" rx="2.0" ry="1.5" stroke-width="1.35"/>
<path d="M518.5,900.5L540.3,900.8L540.3,903.8L518.5,903.6" stroke-width="1.7"/>
<path d="M533.6,895.0L546.0,895.0L548.5,907.2L535.5,907.7L533.6,895.0" stroke-width="0.9"/>
<path d="M547.0,895.2L551.0,895.5L554.7,911.0" stroke-width="0.9"/>
<path d="M526.0,898.5L531.0,898.0" stroke-width="1.35"/>
<path d="M524.0,905.5L530.0,905.8" stroke-width="0.9"/>
<path d="M539.7,918.8Q539.4,917.4 540.8,917.3L546.5,918Q548.1,918.3 548.1,919.8L547.7,923.8Q547.4,925 546,924.9L540.4,924.2Q539,923.8 539.2,922.4Z" stroke-width="1.9"/>
<ellipse cx="541.5" cy="921.0" rx="1.6" ry="2.6" stroke-width="0.9"/>
<path d="M548.1,919.5C548.9,919.6 551.5,919.8 553.0,920.2C554.5,920.6 556.0,921.0 557.0,922.0C558.0,923.0 557.4,920.8 559.0,926.0C560.6,931.2 565.2,948.8 566.4,953.4" stroke-width="1.9"/>
<path d="M547.9,922.6C548.6,922.7 550.9,922.8 552.0,923.2C553.1,923.6 553.8,924.0 554.5,925.0C555.2,926.0 554.7,924.3 556.0,929.0C557.3,933.7 561.2,949.3 562.2,953.4" stroke-width="1.9"/>
<path d="M560.3,928.5L567.2,953.0" stroke-width="0.9"/>
<path d="M561.5,930.0L568.0,953.0" stroke-width="0.9"/>
<path d="M558.8,923.0L560.3,927.5" stroke-width="1.35"/>
<path d="M552.3,941.5Q552.1,939.3 553.7,939.3Q555,939.4 555.3,941L558.4,953.4" stroke-width="1.35"/>
<path d="M552.3,941.5L556.1,953.4" stroke-width="1.35"/>
<path d="M544.8,934.7L557.0,934.7" stroke-width="0.9"/>
<path d="M545.3,934.7L547.2,941.3L550.9,941.3L551.4,950.6L555.6,951.1" stroke-width="0.9"/>
<path d="M548.1,958.1L549.0,963.8L557.0,963.8" stroke-width="1.35"/>
<path d="M557.5,958.5L558.5,963.5" stroke-width="1.9"/>
<path d="M560.3,958.5L561.3,963.5" stroke-width="1.35"/>
<path d="M563.0,958.2L564.0,963.2" stroke-width="1.9"/>
<path d="M565.5,958.0L566.5,963.0" stroke-width="1.35"/>
<path d="M571.0,957.5L572.0,963.0" stroke-width="0.9"/>
<path d="M557.5,969.3L564.0,969.3" stroke-width="1.35" stroke-dasharray="2 1.2"/>
<path d="M556.6,975.3L568.7,975.0" stroke-width="1.35" stroke-dasharray="2 1.2"/>
<path d="M556.6,977.8L568.7,977.5" stroke-width="0.9"/>
<path d="M550.0,981.5L550.0,990.0" stroke-width="1.35"/>
<path d="M550.0,984.4L557.5,984.4" stroke-width="0.9"/>
<path d="M566.8,981.6C566.2,981.5 564.5,980.6 563.5,980.8C562.5,981.0 561.2,982.0 561.0,983.0C560.8,984.0 561.2,986.1 562.0,986.8C562.8,987.5 564.4,987.5 565.5,987.2C566.6,986.9 568.0,985.2 568.5,984.8" stroke-width="2.4"/>
<ellipse cx="564.3" cy="984.6" rx="6.8" ry="5.2" stroke-width="0.9"/>
</g>
<!--/CAR2-->
</svg>

<div class="abs" id="pg">7-14</div>
<div class="abs" id="wm">carmanualsonline.info</div>
</body>
</html>
